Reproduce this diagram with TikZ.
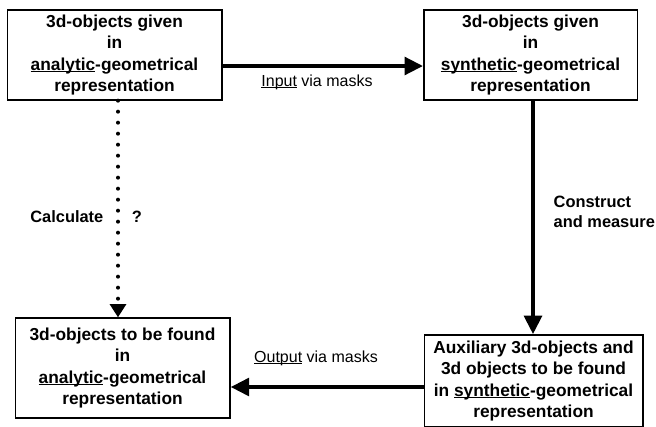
\documentclass[tikz,border=0pt]{standalone}
\usepackage{fontspec}
\setmainfont{Liberation Sans}
\usetikzlibrary{arrows.meta,positioning,calc}
\newcommand{\boxfontsize}{\fontsize{13}{16}\selectfont}
\newcommand{\ulword}[1]{\setbox0\hbox{#1}\rlap{\rule[-1.6pt]{\wd0}{0.7pt}}#1}

\begin{document}
\begin{tikzpicture}[x=0.75pt,y=-0.75pt,
    objbox/.style={draw,line width=1pt,align=center,inner sep=0pt,font=\boxfontsize\bfseries},
    bigarrow/.style={line width=3.5pt,-{Triangle[length=14pt,width=13pt]}},
    dotarrow/.style={line width=3pt,line cap=round,dash pattern=on 0pt off 8.25pt,-{Triangle[length=10pt,width=12pt]}},
    masklabel/.style={font=\fontsize{12}{14}\selectfont},
    steplabel/.style={font=\fontsize{12.3}{15}\selectfont\bfseries,align=left}]
    \useasboundingbox (0,0) rectangle (656,426);
    % the four representations
    \node[objbox,minimum width=161pt,minimum height=67.5pt] (givenA) at (114.5,55) {3d-objects given\\in\\\ulword{analytic}-geometrical\\representation};
    \node[objbox,minimum width=160pt,minimum height=67.5pt] (givenS) at (530.5,55) {3d-objects given\\in\\\ulword{synthetic}-geometrical\\representation};
    \node[objbox,minimum width=161pt,minimum height=75pt] (foundA) at (122.5,368) {3d-objects to be found\\in\\\ulword{analytic}-geometrical\\representation};
    \node[objbox,minimum width=164pt,minimum height=69pt] (foundS) at (533.5,381) {Auxiliary 3d-objects and\\3d objects to be found\\in \ulword{synthetic}-geometrical\\representation};
    % connectors
    \draw[bigarrow] (givenA.east |- 0,66) -- (givenS.west |- 0,66);
    \draw[bigarrow] (givenS.south -| 533,0) -- (foundS.north -| 533,0);
    \draw[bigarrow] (foundS.west |- 0,387) -- (foundA.east |- 0,387);
    \draw[dotarrow] (givenA.south -| 118,0) -- (foundA.north -| 118,0);
    % labels
    \node[masklabel] (inlbl) at (317,82) {\ulword{Input} via masks};
    \node[masklabel] (outlbl) at (316,358) {\ulword{Output} via masks};
    \node[steplabel,anchor=east] (calc) at (108,217) {Calculate};
    \node[steplabel] (qmark) at (137,217) {?};
    \node[steplabel,anchor=west] (constr) at (549,212) {Construct\\and measure};
\end{tikzpicture}
\end{document}
